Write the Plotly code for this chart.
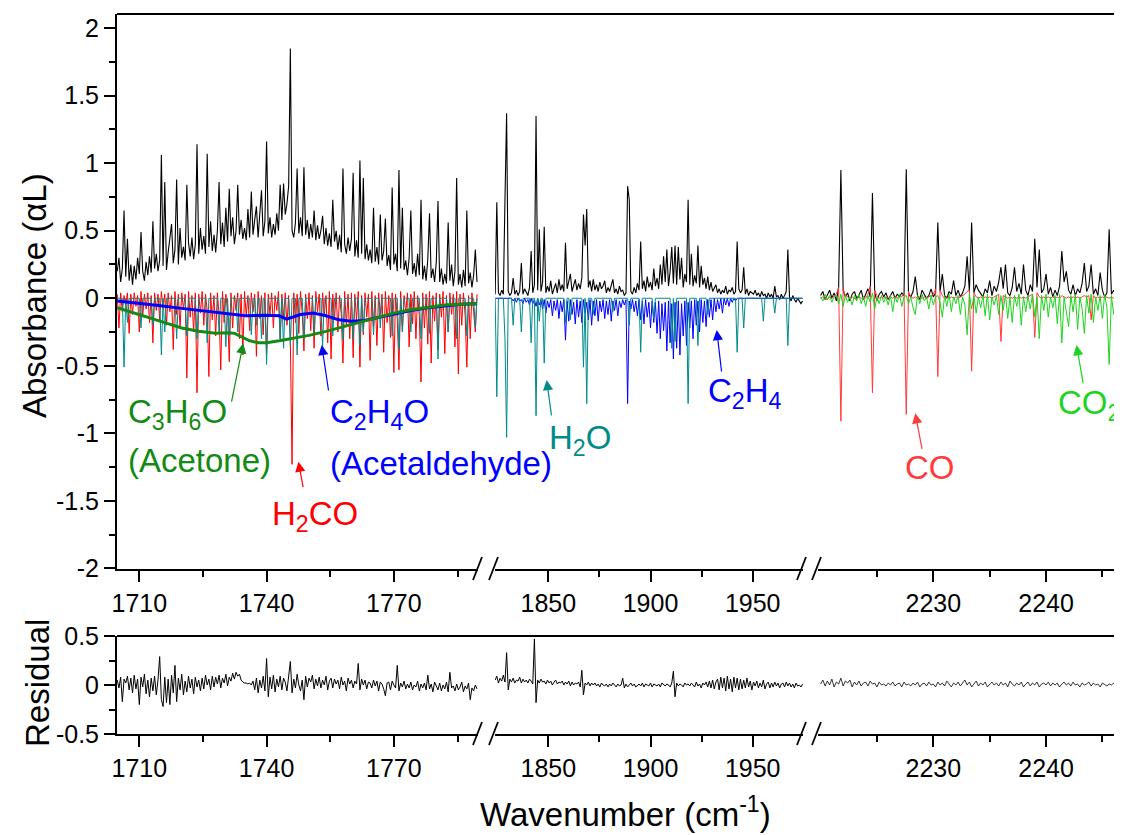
import numpy as np
import plotly.graph_objects as go

# ---------------- sampling grids of the three spectral windows (cm-1) ----------------
SEG1_START, SEG1_STEP = 1704.8, 0.4
SEG2_START, SEG2_STEP = 1824.0, 0.8
SEG3_START, SEG3_STEP = 2220.0, 0.2

# ---------------- window 1 (1705-1790 cm-1) ----------------
MEAS1 = [
    0.20, 0.30, 0.12, 0.22, 0.65, 0.16, 0.44, 0.13, 0.25, 0.10,
    0.24, 0.14, 0.30, 0.18, 0.49, 0.20, 0.13, 0.27, 0.17, 0.31,
    0.19, 0.57, 0.22, 0.33, 0.20, 0.28, 1.06, 0.24, 0.86, 0.21,
    0.34, 0.44, 0.55, 0.26, 0.36, 0.88, 0.25, 0.52, 0.30, 0.38,
    0.28, 0.84, 0.41, 0.31, 0.45, 0.29, 0.40, 1.14, 0.33, 0.52,
    0.36, 0.46, 0.33, 1.07, 0.38, 0.57, 0.35, 0.47, 0.34, 0.50,
    0.86, 0.40, 0.56, 0.38, 0.67, 0.42, 0.81, 0.46, 0.60, 0.40,
    0.50, 0.84, 0.47, 0.58, 0.44, 0.52, 0.43, 0.66, 0.45, 0.79,
    0.47, 0.58, 0.68, 0.45, 0.62, 0.80, 0.46, 0.57, 1.16, 0.48,
    0.60, 0.45, 0.55, 0.47, 0.63, 0.50, 0.84, 0.58, 0.85, 0.62,
    0.70, 0.83, 1.85, 0.50, 0.45, 0.56, 0.96, 0.48, 0.60, 0.46,
    0.97, 0.47, 0.58, 0.44, 0.55, 0.45, 0.65, 0.43, 0.54, 0.44,
    0.50, 0.61, 0.40, 0.52, 0.39, 0.48, 0.38, 0.73, 0.42, 0.50,
    0.36, 0.47, 0.34, 0.96, 0.40, 0.33, 0.45, 0.35, 0.44, 0.93,
    0.31, 0.43, 0.30, 1.02, 0.33, 0.89, 0.29, 0.40, 0.28, 0.36,
    0.26, 0.67, 0.27, 0.38, 0.25, 0.62, 0.28, 0.35, 0.59, 0.24,
    0.32, 0.21, 0.82, 0.25, 0.33, 0.20, 0.95, 0.22, 0.67, 0.21,
    0.28, 0.17, 0.30, 0.65, 0.18, 0.26, 0.16, 0.33, 0.17, 0.73,
    0.14, 0.24, 0.13, 0.29, 0.63, 0.15, 0.22, 0.12, 0.27, 0.72,
    0.12, 0.22, 0.10, 0.18, 0.11, 0.56, 0.13, 0.25, 0.09, 0.20,
    0.89, 0.10, 0.18, 0.08, 0.21, 0.09, 0.65, 0.11, 0.19, 0.08,
    0.17, 0.36, 0.12,
]
H2CO1 = [
    0.03, -0.22, 0.04, -0.10, 0.02, -0.05, 0.04, -0.26, 0.03, -0.12,
    0.04, -0.06, 0.02, -0.25, 0.05, -0.14, 0.03, -0.08, 0.04, -0.18,
    0.02, -0.33, 0.04, -0.09, 0.03, -0.16, 0.05, -0.07, 0.03, -0.20,
    0.04, -0.10, 0.02, -0.38, 0.05, -0.12, 0.03, -0.22, 0.04, -0.08,
    0.03, -0.59, 0.05, -0.14, 0.02, -0.25, 0.04, -0.70, 0.03, -0.11,
    0.05, -0.20, 0.03, -0.09, -0.58, 0.04, -0.16, 0.02, -0.28, 0.04,
    -0.12, -0.53, 0.05, -0.18, 0.03, -0.10, -0.47, 0.04, -0.22, 0.02,
    -0.09, 0.04, -0.30, 0.03, -0.42, 0.05, -0.13, 0.02, -0.24, 0.04,
    -0.10, 0.03, -0.43, 0.05, -0.15, 0.02, -0.27, 0.04, -0.41, 0.03,
    -0.12, 0.04, -0.22, 0.02, -0.09, 0.05, -0.30, 0.03, -0.14, 0.04,
    -0.20, 0.02, -0.32, -1.23, 0.04, -0.18, 0.03, -0.26, 0.05, -0.11,
    -0.39, 0.03, -0.15, 0.04, -0.24, 0.02, -0.37, 0.05, -0.10, 0.03,
    -0.28, 0.04, -0.13, 0.02, -0.33, 0.05, -0.45, 0.03, -0.16, 0.04,
    -0.25, 0.02, -0.12, -0.48, 0.05, -0.20, 0.03, -0.30, 0.04, -0.44,
    0.03, -0.16, 0.05, -0.51, 0.02, -0.27, 0.04, -0.14, 0.03, -0.46,
    0.05, -0.21, 0.02, -0.35, 0.04, -0.12, 0.03, -0.40, 0.05, -0.18,
    0.02, -0.29, 0.04, -0.55, 0.03, -0.15, -0.53, 0.05, -0.24, 0.02,
    -0.11, 0.04, -0.36, 0.03, -0.19, 0.05, -0.30, 0.02, -0.13, -0.62,
    0.04, -0.22, 0.03, -0.34, 0.05, -0.48, 0.02, -0.17, 0.04, -0.38,
    0.03, -0.14, 0.05, -0.41, 0.02, -0.25, 0.04, -0.12, 0.03, -0.36,
    0.05, -0.56, 0.03, -0.20, 0.04, -0.13, -0.51, 0.02, -0.30, 0.04,
    -0.10, -0.25, 0.03,
]
H2O1 = [
    0, 0, 0, 0, -0.51, 0, -0.18, 0, 0, 0,
    0, 0, 0, 0, -0.22, 0, 0, 0, 0, 0,
    0, -0.20, 0, 0, 0, 0, -0.42, 0, -0.25, 0,
    0, 0, 0, 0, 0, -0.30, 0, 0, 0, 0,
    0, -0.28, 0, 0, 0, 0, 0, -0.30, 0, 0,
    0, 0, 0, -0.33, 0, 0, 0, 0, 0, 0,
    -0.26, 0, 0, 0, -0.36, 0, -0.28, 0, 0, 0,
    0, -0.25, 0, 0, 0, 0, 0, 0, 0, -0.27,
    0, 0, -0.20, 0, 0, -0.30, 0, 0, -0.49, 0,
    0, 0, 0, 0, 0, 0, -0.30, 0, -0.37, 0,
    0, 0, -0.35, 0, 0, 0, -0.42, 0, 0, 0,
    -0.30, 0, 0, 0, 0, 0, -0.25, 0, 0, 0,
    0, -0.36, 0, 0, 0, 0, 0, -0.28, 0, 0,
    0, 0, 0, -0.31, 0, 0, 0, 0, 0, -0.30,
    0, 0, 0, -0.35, 0, -0.25, 0, 0, 0, 0,
    0, -0.27, 0, 0, 0, -0.22, 0, 0, 0, 0,
    0, 0, -0.28, 0, 0, 0, -0.38, 0, -0.25, 0,
    0, 0, 0, -0.25, 0, 0, 0, 0, 0, -0.30,
    0, 0, 0, 0, -0.26, 0, 0, 0, 0, -0.45,
    0, 0, 0, 0, 0, -0.25, 0, 0, 0, 0,
    -0.30, 0, 0, 0, 0, 0, -0.28, 0, 0, 0,
    0, -0.22, 0,
]
ACETALDEHYDE_X = [1704.8, 1710, 1715, 1720, 1725, 1730, 1735, 1740, 1743, 1744.7, 1746,
                  1748, 1751, 1754, 1757, 1760, 1763, 1766, 1770, 1774, 1778, 1782, 1786, 1789.6]
ACETALDEHYDE_Y = [-0.02, -0.035, -0.055, -0.075, -0.095, -0.115, -0.13, -0.125, -0.13, -0.155, -0.14,
                  -0.12, -0.11, -0.13, -0.16, -0.17, -0.165, -0.145, -0.115, -0.09, -0.07, -0.055, -0.045, -0.04]
ACETONE_X = [1704.8, 1708, 1712, 1716, 1720, 1724, 1728, 1731, 1732.5, 1734, 1736, 1738, 1740,
             1743, 1746, 1750, 1754, 1758, 1762, 1766, 1770, 1774, 1778, 1782, 1786, 1789.6]
ACETONE_Y = [-0.07, -0.10, -0.14, -0.18, -0.22, -0.245, -0.26, -0.255, -0.26, -0.285, -0.315, -0.33, -0.33,
             -0.315, -0.30, -0.275, -0.245, -0.21, -0.175, -0.14, -0.11, -0.085, -0.065, -0.05, -0.045, -0.04]

# ---------------- window 2 (1824-1975 cm-1) ----------------
MEAS2 = [
    0.03, 0.71, 0.04, 0.02, 0.06, 0.03, 0.73, 1.37, 0.05, 0.02,
    0.04, 0.15, 0.03, 0.06, 0.02, 0.05, 0.26, 0.03, 0.07, 0.04,
    0.02, 0.08, 0.35, 0.04, 0.10, 1.35, 0.06, 0.51, 0.05, 0.12,
    0.53, 0.04, 0.09, 0.05, 0.13, 0.03, 0.08, 0.11, 0.04, 0.14,
    0.06, 0.10, 0.05, 0.41, 0.07, 0.12, 0.18, 0.05, 0.09, 0.14,
    0.06, 0.11, 0.07, 0.15, 0.62, 0.39, 0.66, 0.08, 0.13, 0.05,
    0.14, 0.06, 0.10, 0.05, 0.12, 0.07, 0.09, 0.13, 0.04, 0.08,
    0.05, 0.10, 0.14, 0.04, 0.07, 0.03, 0.09, 0.05, 0.06, 0.02,
    0.04, 0.83, 0.73, 0.05, 0.03, 0.08, 0.04, 0.11, 0.06, 0.42,
    0.07, 0.13, 0.05, 0.16, 0.08, 0.12, 0.06, 0.22, 0.09, 0.15,
    0.07, 0.25, 0.10, 0.31, 0.12, 0.36, 0.09, 0.20, 0.38, 0.11,
    0.39, 0.10, 0.38, 0.14, 0.30, 0.08, 0.18, 0.12, 0.73, 0.10,
    0.33, 0.09, 0.17, 0.11, 0.39, 0.08, 0.24, 0.10, 0.15, 0.07,
    0.16, 0.06, 0.12, 0.05, 0.08, 0.10, 0.04, 0.07, 0.03, 0.06,
    0.04, 0.09, 0.03, 0.06, 0.05, 0.08, 0.03, 0.05, 0.42, 0.07,
    0.04, 0.06, 0.23, 0.03, 0.07, 0.02, 0.05, 0.04, 0.03, 0.06,
    0.02, 0.04, 0.01, 0.05, 0.02, 0.03, 0.00, 0.04, 0.01, 0.03,
    0.00, 0.09, 0.01, 0.02, -0.01, 0.03, 0.00, 0.02, 0.05, 0.36,
    0.01, -0.02, 0.02, -0.01, -0.03, 0.00, -0.02, -0.04, -0.02,
]
C2H4_2 = [
    0, 0, 0, 0, 0, 0, 0, 0, 0, 0,
    0, -0.02, 0, -0.03, 0, -0.02, -0.01, -0.04, 0, -0.03,
    -0.01, -0.05, 0, -0.04, -0.01, -0.06, 0, -0.05, -0.01, -0.08,
    -0.01, -0.11, -0.02, -0.07, -0.01, -0.13, -0.02, -0.09, -0.01, -0.15,
    -0.02, -0.10, -0.01, -0.31, -0.02, -0.17, -0.01, -0.12, -0.03, -0.19,
    -0.01, -0.14, -0.02, -0.18, -0.01, -0.11, -0.03, -0.16, -0.01, -0.20,
    -0.02, -0.13, -0.01, -0.17, -0.02, -0.10, -0.01, -0.15, -0.02, -0.12,
    -0.01, -0.17, -0.02, -0.09, -0.01, -0.13, -0.02, -0.07, -0.01, -0.05,
    -0.01, -0.78, -0.02, -0.08, -0.01, -0.10, -0.02, -0.13, -0.01, -0.16,
    -0.02, -0.19, -0.01, -0.14, -0.03, -0.22, -0.02, -0.18, -0.03, -0.26,
    -0.02, -0.30, -0.04, -0.24, -0.03, -0.39, -0.02, -0.33, -0.04, -0.45,
    -0.03, -0.37, -0.02, -0.42, -0.04, -0.28, -0.02, -0.35, -0.03, -0.22,
    -0.02, -0.30, -0.01, -0.20, -0.02, -0.25, -0.01, -0.18, -0.02, -0.21,
    -0.01, -0.14, -0.01, -0.16, 0, -0.10, -0.01, -0.08, 0, -0.11,
    0, -0.05, 0, -0.06, 0, -0.03, 0, -0.02, 0, 0,
    0, 0, 0, 0, 0, 0, 0, 0, 0, 0,
    0, 0, 0, 0, 0, 0, 0, 0, 0, 0,
    0, 0, 0, 0, 0, 0, 0, 0, 0, 0,
    0, 0, 0, 0, 0, 0, 0, 0, 0,
]
H2O2 = [
    0, -0.73, 0, 0, 0, 0, -0.30, -1.03, 0, 0,
    0, -0.20, 0, 0, 0, 0, -0.25, 0, 0, 0,
    0, 0, -0.33, 0, 0, -0.87, 0, -0.17, 0, 0,
    -0.48, 0, 0, 0, 0, 0, 0, 0, 0, 0,
    0, 0, 0, -0.18, 0, 0, -0.16, 0, 0, 0,
    0, 0, 0, 0, -0.51, 0, -0.78, 0, 0, 0,
    -0.12, 0, 0, 0, 0, 0, 0, 0, 0, 0,
    0, 0, -0.10, 0, 0, 0, 0, 0, 0, 0,
    0, 0, -0.20, 0, 0, 0, 0, 0, 0, -0.40,
    0, 0, 0, 0, 0, 0, 0, -0.15, 0, 0,
    0, 0, 0, 0, 0, 0, 0, 0, -0.37, 0,
    -0.32, 0, 0, 0, 0, 0, 0, 0, -0.78, 0,
    0, 0, 0, 0, -0.35, 0, 0, 0, 0, 0,
    -0.12, 0, 0, 0, 0, 0, 0, 0, 0, 0,
    0, 0, 0, 0, 0, 0, 0, 0, -0.40, 0,
    0, 0, -0.22, 0, 0, 0, 0, 0, 0, 0,
    0, 0, 0, 0, -0.17, 0, 0, 0, 0, 0,
    0, -0.11, 0, 0, 0, 0, 0, 0, 0, -0.35,
    0, 0, 0, 0, 0, 0, 0, 0, 0,
]

# ---------------- window 3 (2220-2247 cm-1) ----------------
MEAS3 = [
    0.02, 0.05, -0.01, 0.03, 0.06, 0.00, 0.04, -0.02, 0.08, 0.95,
    0.06, 0.01, 0.04, -0.02, 0.03, 0.05, 0.00, 0.02, 0.06, -0.01,
    0.03, 0.07, 0.01, 0.78, 0.04, -0.02, 0.03, 0.05, 0.01, 0.04,
    -0.01, 0.02, 0.05, 0.00, 0.03, 0.01, 0.04, 0.02, 0.955, 0.03,
    0.01, 0.05, 0.16, 0.02, -0.01, 0.06, 0.03, 0.00, 0.02, 0.07,
    0.01, 0.04, 0.56, 0.05, 0.18, 0.02, 0.00, 0.05, 0.03, 0.13,
    0.02, 0.06, 0.01, 0.04, 0.09, 0.31, 0.05, 0.56, 0.04, 0.10,
    0.06, 0.03, 0.01, 0.07, 0.04, 0.13, 0.02, 0.09, 0.05, 0.12,
    0.23, 0.07, 0.25, 0.04, 0.02, 0.08, 0.23, 0.05, 0.11, 0.03,
    0.25, 0.06, 0.02, 0.10, 0.05, 0.44, 0.08, 0.36, 0.04, 0.07,
    0.18, 0.03, 0.08, 0.01, 0.06, 0.02, 0.09, 0.35, 0.12, 0.20,
    0.06, 0.03, 0.10, 0.02, 0.07, 0.04, 0.11, 0.26, 0.05, 0.09,
    0.25, 0.03, 0.07, 0.02, 0.19, 0.06, 0.01, 0.04, 0.51, 0.03,
    0.06, 0.02, 0.08, 0.19,
]
CO3 = [
    0, 0.01, 0, -0.01, 0.01, 0, 0.02, 0.03, 0.08, -0.91,
    0.07, 0.02, 0.01, 0, 0.01, 0, -0.01, 0.01, 0, 0.01,
    0, 0.03, 0.09, -0.70, 0.06, 0.02, 0, 0.01, 0, 0.01,
    0, 0.01, 0, 0.01, 0, 0.02, 0.01, 0.04, -0.86, 0.05,
    0.01, 0, 0.01, 0, 0.01, 0, 0.01, 0, 0.01, 0.02,
    0.03, 0.07, -0.58, 0.06, 0.02, 0, 0.01, 0, 0.01, 0,
    0.01, 0, 0.01, 0.02, 0.03, 0.05, 0.06, -0.54, 0.04, 0.01,
    0, 0.01, 0, 0.01, 0, 0.01, 0, 0.01, 0.02, 0.03,
    -0.32, 0.02, 0.01, 0, 0.01, 0, 0.01, 0, 0.01, 0,
    0.01, 0, 0.01, 0.02, 0.03, -0.29, 0.04, 0.01, 0, 0.01,
    0, 0.01, 0, 0.01, 0, 0.01, 0, 0.02, 0.01, 0,
    0.01, 0, 0.01, 0, 0.01, 0, 0.01, 0.02, 0.01, 0.02,
    -0.16, 0.02, 0, 0.01, 0, 0.01, 0, 0.01, 0, 0.01,
    0, 0.01, 0, 0,
]
CO2_3 = [
    0.01, -0.02, 0.03, -0.01, 0.02, -0.03, 0.01, 0.02, -0.04, 0.03,
    -0.06, 0.02, -0.03, 0.01, -0.05, 0.02, -0.02, 0.03, -0.04, 0.01,
    -0.06, 0.02, -0.03, 0.04, -0.08, 0.01, -0.04, 0.02, -0.03, 0.01,
    -0.05, 0.02, -0.10, 0.01, -0.03, 0.03, -0.06, 0.01, 0.02, -0.04,
    0.01, -0.07, -0.12, 0.02, -0.04, 0.03, -0.02, 0.01, -0.08, 0.02,
    -0.05, 0.01, 0.02, -0.03, -0.14, 0.02, -0.06, 0.03, -0.10, 0.01,
    -0.04, 0.02, -0.12, 0.01, -0.05, -0.27, 0.03, -0.08, 0.02, -0.11,
    0.01, -0.07, 0.02, -0.13, 0.03, -0.16, 0.01, -0.05, 0.02, -0.12,
    0.02, -0.09, 0.03, -0.15, 0.01, -0.18, 0.02, -0.06, 0.03, -0.20,
    0.01, -0.10, 0.02, -0.08, 0.03, -0.14, 0.01, -0.30, 0.02, -0.09,
    0.03, -0.14, 0.01, -0.07, 0.02, -0.19, 0.03, -0.33, 0.01, -0.12,
    -0.21, 0.02, -0.10, 0.03, -0.23, 0.01, -0.08, -0.26, 0.02, -0.11,
    0.03, -0.18, 0.01, -0.09, 0.02, -0.15, 0.03, -0.07, -0.49, 0.02,
    -0.12, 0.01, -0.08, -0.17,
]

# ---------------- fit residuals ----------------
RES1 = [
    0.05, -0.03, 0.08, -0.17, 0.06, 0.02, 0.09, -0.05, 0.07, -0.08,
    0.10, -0.04, 0.06, -0.20, 0.08, -0.02, 0.11, -0.09, 0.05, -0.12,
    0.07, -0.06, 0.09, -0.10, 0.05, 0.29, -0.15, -0.22, 0.08, -0.18,
    0.06, -0.20, 0.10, -0.08, 0.20, -0.17, 0.07, -0.05, 0.11, -0.10,
    0.04, -0.07, 0.09, -0.03, 0.06, -0.09, 0.08, -0.02, 0.05, -0.06,
    0.07, -0.04, 0.10, 0.00, 0.06, -0.05, 0.09, -0.02, 0.08, 0.01,
    0.10, -0.03, 0.07, 0.02, 0.11, -0.01, 0.08, 0.04, 0.12, 0.06,
    0.13, 0.09, 0.11, 0.05, 0.03, 0.02, 0.02, 0.01, 0.02, 0.00,
    0.04, -0.05, 0.07, -0.08, 0.05, -0.03, 0.09, -0.06, 0.27, -0.12,
    0.08, -0.04, 0.10, -0.07, 0.06, -0.02, 0.09, -0.05, 0.07, 0.03,
    -0.06, 0.08, 0.24, -0.08, 0.06, -0.03, 0.11, 0.00, -0.06, 0.05,
    -0.15, 0.09, -0.02, 0.07, 0.03, 0.10, -0.04, 0.06, -0.01, 0.08,
    -0.03, 0.05, 0.00, 0.09, -0.05, 0.04, 0.07, -0.03, 0.06, 0.01,
    0.05, -0.04, 0.08, 0.00, 0.04, -0.06, 0.07, 0.01, 0.05, -0.03,
    0.04, 0.01, 0.22, -0.05, 0.06, 0.00, 0.05, -0.04, 0.03, 0.02,
    -0.03, 0.05, -0.01, 0.04, -0.06, 0.03, 0.01, -0.04, -0.11, 0.02,
    0.03, -0.05, 0.04, 0.00, -0.03, 0.20, -0.06, 0.02, -0.02, 0.04,
    -0.04, 0.01, -0.03, 0.03, -0.05, 0.00, -0.02, 0.04, -0.06, 0.01,
    -0.03, 0.02, -0.05, 0.10, -0.04, 0.01, -0.07, 0.03, -0.02, -0.05,
    0.02, -0.06, 0.00, -0.04, 0.03, -0.07, 0.13, -0.03, -0.01, -0.06,
    0.01, -0.05, -0.02, 0.03, -0.07, -0.01, -0.04, 0.02, -0.15, -0.03,
    -0.06, 0.00, -0.04,
]
RES2 = [
    0.05, 0.09, 0.02, 0.07, 0.04, 0.10, 0.03, 0.33, -0.05, 0.06,
    0.03, 0.07, 0.02, 0.05, 0.04, 0.08, 0.02, 0.06, 0.03, 0.05,
    0.02, 0.06, 0.04, 0.01, 0.47, -0.18, 0.05, 0.02, 0.06, 0.03,
    0.04, 0.01, 0.05, 0.02, 0.04, 0.00, 0.03, 0.05, 0.01, 0.03,
    0.02, 0.04, 0.00, 0.03, 0.01, 0.04, -0.01, 0.03, 0.00, 0.02,
    0.01, 0.03, -0.02, 0.15, -0.10, 0.02, 0.00, 0.03, -0.01, 0.02,
    0.00, 0.02, -0.01, 0.01, -0.02, 0.02, 0.00, -0.01, 0.01, -0.02,
    0.01, -0.01, 0.02, 0.00, -0.02, 0.01, -0.01, 0.00, 0.07, -0.03,
    0.01, -0.02, 0.00, 0.02, -0.01, 0.01, -0.02, 0.00, 0.01, -0.01,
    0.02, -0.02, 0.01, 0.00, -0.01, 0.02, -0.02, 0.01, 0.00, -0.01,
    0.01, -0.02, 0.02, 0.00, -0.01, 0.01, 0.00, -0.02, 0.02, 0.14,
    -0.12, 0.02, -0.01, 0.01, 0.00, -0.02, 0.02, 0.00, 0.01, -0.01,
    0.02, 0.00, -0.02, 0.03, -0.01, 0.01, -0.03, 0.02, 0.00, 0.03,
    -0.02, 0.04, -0.03, 0.05, -0.04, 0.03, 0.06, -0.05, 0.08, -0.03,
    0.07, -0.06, 0.09, -0.04, 0.06, -0.07, 0.08, -0.03, 0.07, -0.05,
    0.06, -0.04, 0.05, -0.03, 0.07, -0.02, 0.04, -0.05, 0.03, -0.01,
    0.04, -0.03, 0.02, -0.02, 0.05, -0.04, 0.01, 0.03, -0.03, 0.02,
    -0.02, 0.03, -0.01, 0.02, -0.03, 0.01, 0.02, -0.02, 0.03, -0.01,
    0.02, -0.02, 0.01, -0.03, 0.02, -0.01, 0.00, -0.02, 0.01,
]
RES3 = [
    0.01, 0.05, -0.01, 0.04, 0.00, 0.06, -0.02, 0.03, 0.01, 0.07,
    -0.01, 0.04, 0.02, 0.05, -0.02, 0.03, 0.00, 0.04, -0.01, 0.02,
    0.03, -0.01, 0.04, 0.01, 0.02, -0.02, 0.03, 0.00, 0.01, -0.01,
    0.02, 0.00, 0.03, -0.01, 0.01, 0.02, -0.02, 0.03, 0.00, 0.01,
    -0.01, 0.02, 0.00, 0.03, -0.02, 0.01, 0.02, -0.01, 0.03, 0.00,
    0.01, -0.02, 0.03, 0.00, 0.02, -0.01, 0.04, 0.01, -0.02, 0.02,
    0.00, 0.03, -0.01, 0.02, 0.05, 0.00, 0.03, -0.02, 0.01, 0.04,
    -0.01, 0.02, 0.00, 0.03, -0.02, 0.01, 0.03, 0.00, 0.02, -0.01,
    0.03, 0.00, 0.02, -0.02, 0.04, 0.01, -0.01, 0.02, 0.00, 0.03,
    -0.02, 0.01, 0.03, -0.01, 0.02, 0.00, 0.03, -0.02, 0.01, 0.02,
    0.00, 0.03, -0.01, 0.02, 0.00, 0.02, -0.02, 0.01, 0.03, 0.00,
    0.02, -0.01, 0.03, 0.00, 0.01, -0.02, 0.02, 0.00, 0.01, 0.03,
    -0.01, 0.02, 0.00, 0.01, -0.02, 0.02, 0.00, -0.01, 0.01, 0.00,
    0.02, -0.01, 0.01, 0.00,
]

# axis windows and ticks
X1_RANGE, X2_RANGE, X3_RANGE = [1704.74, 1789.83], [1823.92, 1974.61], [2219.77, 2246.65]
X1_MAJOR, X1_MINOR = [1710, 1740, 1770], [1725, 1755, 1785]
X2_MAJOR, X2_MINOR = [1850, 1900, 1950], [1875, 1925]
X3_MAJOR, X3_MINOR = [2230, 2240], [2225, 2235, 2245]
YTOP_TICKS = [-2, -1.5, -1, -0.5, 0, 0.5, 1, 1.5, 2]
YTOP_LABELS = ["-2", "-1.5", "-1", "-0.5", "0", "0.5", "1", "1.5", "2"]
YRES_TICKS = [-0.5, 0, 0.5]
YRES_LABELS = ["-0.5", "0", "0.5"]


def grid(start, step, values):
    return np.round(start + step * np.arange(len(values)), 3)


w1 = grid(SEG1_START, SEG1_STEP, MEAS1)
w2 = grid(SEG2_START, SEG2_STEP, MEAS2)
w3 = grid(SEG3_START, SEG3_STEP, MEAS3)

BLACK = "#000000"
RED = "#FF0000"
TEAL = "#008B8B"
BLUE = "#0000FF"
DKGREEN = "#138A13"
CORED = "#FF3B3B"
LTGREEN = "#1ED41E"

FONT = "Liberation Sans, Arial, sans-serif"

fig = go.Figure()


def add(x, y, color, width, xa, ya="y"):
    fig.add_trace(go.Scatter(x=x, y=y, mode="lines", line=dict(color=color, width=width),
                             xaxis=xa, yaxis=ya, hoverinfo="skip", showlegend=False))


# top panel
add(w1, MEAS1, BLACK, 1.1, "x")
add(w1, H2CO1, RED, 1, "x")
add(w1, H2O1, TEAL, 1, "x")
add(ACETALDEHYDE_X, ACETALDEHYDE_Y, BLUE, 3, "x")
add(ACETONE_X, ACETONE_Y, DKGREEN, 3, "x")
add(w2, MEAS2, BLACK, 1.1, "x2")
add(w2, C2H4_2, BLUE, 1, "x2")
add(w2, H2O2, TEAL, 1, "x2")
add(w3, MEAS3, BLACK, 1.1, "x3")
add(w3, CO3, CORED, 1, "x3")
add(w3, CO2_3, LTGREEN, 1, "x3")
# residual panel
add(grid(SEG1_START, SEG1_STEP, RES1), RES1, BLACK, 1, "x4", "y2")
add(grid(SEG2_START, SEG2_STEP, RES2), RES2, BLACK, 1, "x5", "y2")
add(grid(SEG3_START, SEG3_STEP, RES3), RES3, BLACK, 0.8, "x6", "y2")

# page body has an 8 px margin: the figure is sized so the plot lands where the reference has it
OFF = 8
W, H = 1122 - OFF, 835 - OFF
ML, MR, MT, MB = 117 - OFF, 1, 14 - OFF, 101
PW, PH = W - ML - MR, H - MT - MB


def px(xp):  # picture x pixel -> paper
    return (xp - OFF - ML) / PW


def py(yp):  # picture y pixel -> paper
    return (H - MB - (yp - OFF)) / PH


tickfont = dict(family=FONT, size=25, color="black")


def xaxis(domain, rng, major, minor, anchor):
    return dict(domain=domain, range=rng, anchor=anchor, tickmode="array", tickvals=major,
                ticktext=[str(v) for v in major], ticks="outside", ticklen=11, tickwidth=1.6,
                tickcolor="black", showline=True, linecolor="black", linewidth=2,
                showgrid=False, zeroline=False, tickfont=tickfont, automargin=False,
                minor=dict(tickmode="array", tickvals=minor, ticks="outside", ticklen=6,
                           tickwidth=1.6, tickcolor="black", showgrid=False))


D1 = [0, px(478)]
D2 = [px(495), px(803)]
D3 = [px(818), 1]
TOPY = [py(569), 1]
RESY = [0, py(636)]

yminor = dict(ticks="outside", ticklen=6, tickwidth=1.6, tickcolor="black", showgrid=False)
fig.update_layout(
    width=W, height=H, margin=dict(l=ML, r=MR, t=MT, b=MB),
    paper_bgcolor="white", plot_bgcolor="white", hovermode=False, showlegend=False,
    font=dict(family=FONT, color="black"),
    xaxis=xaxis(D1, X1_RANGE, X1_MAJOR, X1_MINOR, "y"),
    xaxis2=xaxis(D2, X2_RANGE, X2_MAJOR, X2_MINOR, "y"),
    xaxis3=xaxis(D3, X3_RANGE, X3_MAJOR, X3_MINOR, "y"),
    xaxis4=xaxis(D1, X1_RANGE, X1_MAJOR, X1_MINOR, "y2"),
    xaxis5=xaxis(D2, X2_RANGE, X2_MAJOR, X2_MINOR, "y2"),
    xaxis6=xaxis(D3, X3_RANGE, X3_MAJOR, X3_MINOR, "y2"),
    yaxis=dict(domain=TOPY, range=[-2.005, 2.105], anchor="x", tickmode="array",
               tickvals=YTOP_TICKS, ticktext=YTOP_LABELS, ticks="outside", ticklen=11,
               tickwidth=1.6, tickcolor="black", showline=True, linecolor="black", linewidth=2,
               showgrid=False, zeroline=False, tickfont=tickfont, automargin=False,
               minor=dict(tickmode="linear", tick0=0, dtick=0.25, **yminor)),
    yaxis2=dict(domain=RESY, range=[-0.5, 0.5], anchor="x4", tickmode="array",
                tickvals=YRES_TICKS, ticktext=YRES_LABELS, ticks="outside", ticklen=11,
                tickwidth=1.6, tickcolor="black", showline=True, linecolor="black", linewidth=2,
                showgrid=False, zeroline=False, tickfont=tickfont, automargin=False,
                minor=dict(tickmode="array", tickvals=[-0.25, 0.25], **yminor)),
)

shapes = []
# top frame lines
for yy in (1, RESY[1]):
    shapes.append(dict(type="line", xref="paper", yref="paper", x0=0, x1=1, y0=yy, y1=yy,
                       line=dict(color="black", width=2)))
# axis-break marks
for base in (569, 734):
    for xb in (473, 489, 797, 812):
        shapes.append(dict(type="line", xref="paper", yref="paper",
                           x0=px(xb), y0=py(base + 11), x1=px(xb + 9), y1=py(base - 12),
                           line=dict(color="black", width=1.8)))
fig.update_layout(shapes=shapes)

annos = []
AF = 33


def label(text, x, y, xref, color, xanchor="center"):
    annos.append(dict(text=text, x=x, y=y, xref=xref, yref="y", showarrow=False,
                      xanchor=xanchor, yanchor="middle", font=dict(family=FONT, size=AF, color=color)))


def arrow(x, y, xref, ax, ay, color):
    annos.append(dict(text="", x=x, y=y, xref=xref, yref="y", showarrow=True, ax=ax, ay=ay,
                      arrowhead=2, arrowsize=1.7, arrowwidth=1.2, arrowcolor=color))


label("C<sub>3</sub>H<sub>6</sub>O", 1706.9, -0.86, "x", DKGREEN, "left")
label("(Acetone)", 1706.9, -1.20, "x", DKGREEN, "left")
label("C<sub>2</sub>H<sub>4</sub>O", 1754.4, -0.86, "x", BLUE, "left")
label("(Acetaldehyde)", 1754.4, -1.22, "x", BLUE, "left")
label("H<sub>2</sub>CO", 1751.4, -1.61, "x", RED)
label("H<sub>2</sub>O", 1865.5, -1.05, "x2", TEAL)
label("C<sub>2</sub>H<sub>4</sub>", 1946.2, -0.70, "x2", BLUE)
label("CO", 2229.7, -1.25, "x3", CORED)
label("CO<sub>2</sub>", 2240.9, -0.79, "x3", LTGREEN, "left")

arrow(1734.5, -0.333, "x", -12, 60, DKGREEN)
arrow(1753.0, -0.346, "x", 7, 47, BLUE)
arrow(1747.5, -1.21, "x", 5, 27, RED)
arrow(1849.2, -0.605, "x2", 5, 37, TEAL)
arrow(1932.4, -0.235, "x2", 5, 43, BLUE)
arrow(2228.4, -0.852, "x3", 7, 37, CORED)
arrow(2242.7, -0.346, "x3", 7, 40, LTGREEN)

# axis titles
title_font = dict(family=FONT, size=33, color="black")
annos.append(dict(text="Absorbance (αL)", x=px(34), y=py(296), xref="paper", yref="paper",
                  xanchor="center", yanchor="middle", showarrow=False, textangle=-90, font=title_font))
annos.append(dict(text="Residual", x=px(37), y=py(683), xref="paper", yref="paper",
                  xanchor="center", yanchor="middle", showarrow=False, textangle=-90, font=title_font))
annos.append(dict(text="Wavenumber (cm<sup>-1</sup>)", x=px(625), y=py(812), xref="paper",
                  yref="paper", xanchor="center", yanchor="middle", showarrow=False, font=title_font))
fig.update_layout(annotations=annos)

fig.write_html("out.html")
